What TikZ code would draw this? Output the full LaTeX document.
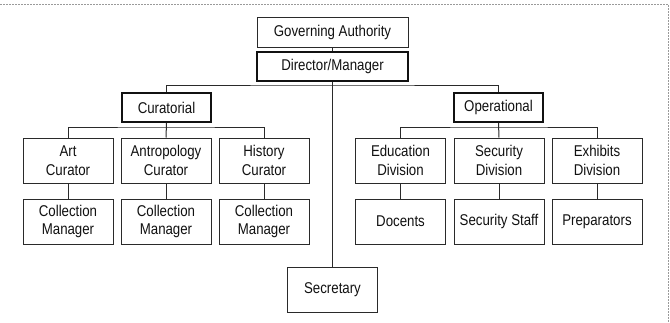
\documentclass[tikz,border=0pt]{standalone}
\usepackage{fontspec}
\setmainfont{Liberation Sans}[FakeStretch=0.85]
\definecolor{ink}{HTML}{111111}
\definecolor{edge}{HTML}{2A2A2A}
\definecolor{frame}{HTML}{9A9A9A}
\begin{document}
\begin{tikzpicture}[x=1pt,y=-1pt,
  box/.style={draw=edge,line width=1pt,fill=white,inner sep=0pt,align=center,
    text=ink,font=\fontsize{15.6}{18.5}\selectfont,minimum height=45pt,minimum width=90pt},
  headbox/.style={box,line width=1.9pt,draw=ink,minimum height=29pt},
  topbox/.style={box,minimum height=30pt,minimum width=151pt},
  link/.style={draw=edge,line width=1pt}]
\useasboundingbox (0,0) rectangle (670,322);
\draw[frame,line width=1pt,dash pattern=on 1.5pt off 1.5pt] (0,4) -- (668,4) -- (668,322);
% nodes
\node[topbox] (ga) at (332.5,32) {Governing Authority};
\node[headbox,minimum width=151pt] (dir) at (332.5,66.5) {Director/Manager};
\node[headbox,minimum width=89pt] (cur) at (166.5,107.5) {Curatorial};
\node[headbox,minimum width=89pt] (op) at (498.5,107.5) {Operational};
\node[box] (art) at (68,160.5) {Art\\Curator};
\node[box] (ant) at (166,160.5) {Antropology\\Curator};
\node[box] (his) at (264,160.5) {History\\Curator};
\node[box] (edu) at (400.5,160.5) {Education\\Division};
\node[box] (sec) at (499,160.5) {Security\\Division};
\node[box] (exh) at (597,160.5) {Exhibits\\Division};
\node[box] (cm1) at (68,221.5) {Collection\\Manager};
\node[box] (cm2) at (166,221.5) {Collection\\Manager};
\node[box] (cm3) at (264,221.5) {Collection\\Manager};
\node[box] (doc) at (400.5,221.5) {Docents};
\node[box] (sst) at (499,221.5) {Security Staff};
\node[box] (pre) at (597,221.5) {Preparators};
\node[box] (secr) at (332.5,289.5) {Secretary};
\coordinate (bus1) at (332.5,85);
\coordinate (bus2) at (166,127);
\coordinate (bus3) at (499,127);
% connectors
\draw[link] (ga.south) -- (dir.north);
\draw[link] (dir.south) -- (secr.north);
\draw[link] (cur.north) |- (bus1) -| (op.north);
\draw[link] (art.north) |- (bus2) -| (his.north);
\draw[link] (cur.south) -- (ant.north);
\draw[link] (edu.north) |- (bus3) -| (exh.north);
\draw[link] (op.south) -- (sec.north);
\draw[link] (art) -- (cm1);
\draw[link] (ant) -- (cm2);
\draw[link] (his) -- (cm3);
\draw[link] (edu) -- (doc);
\draw[link] (sec) -- (sst);
\draw[link] (exh) -- (pre);
\end{tikzpicture}
\end{document}
